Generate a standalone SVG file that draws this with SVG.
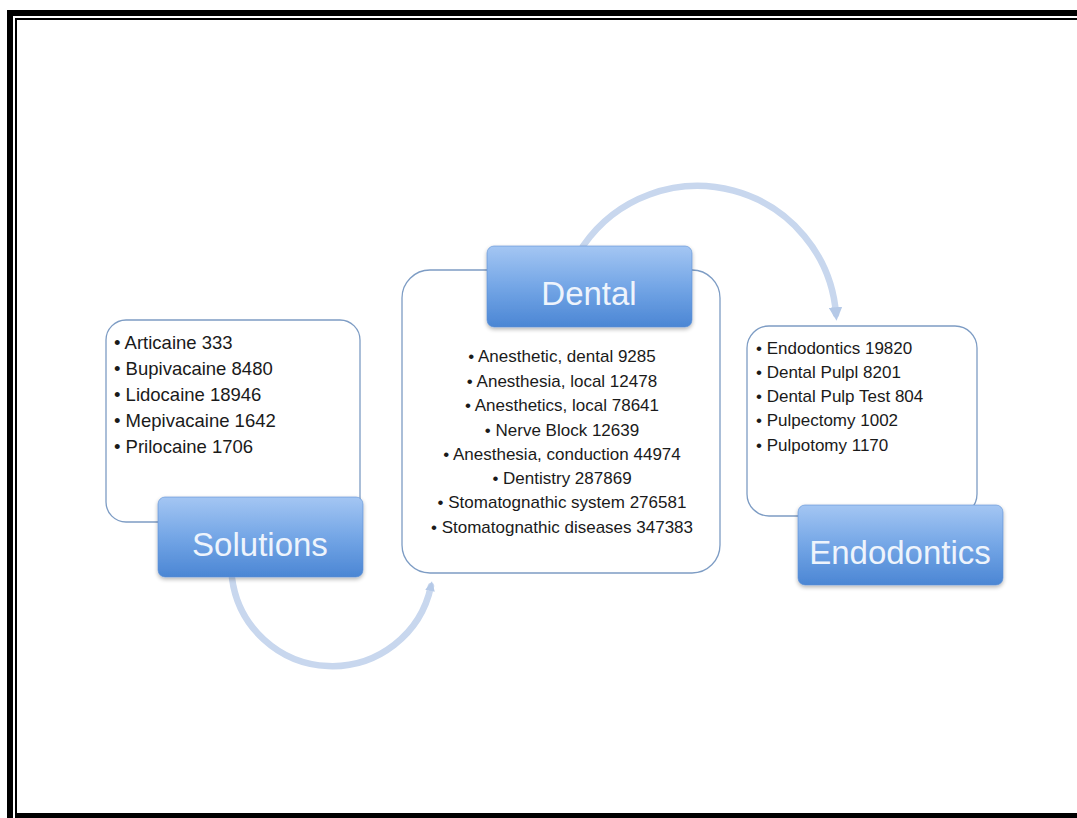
<svg xmlns="http://www.w3.org/2000/svg" width="1077" height="818" viewBox="0 0 1077 818">
<style>
.box{fill:#fff;stroke:#7d9cc4;stroke-width:1.3}
.lbl{stroke:#5d8fd4;stroke-width:0.6;filter:url(#sh)}
.ttl{font-family:"Liberation Sans",Arial,sans-serif;font-size:33px;fill:#eef4fc;text-anchor:middle}
.it{font-family:"Liberation Sans",Arial,sans-serif;font-size:17px;fill:#1a1a1a}
.it18{font-family:"Liberation Sans",Arial,sans-serif;font-size:18.5px;fill:#1a1a1a}
.mid{text-anchor:middle}
.arc{fill:none;stroke:#c8d7ee;stroke-width:6.5;stroke-linecap:round}
</style>
<defs>
<linearGradient id="g" x1="0" y1="0" x2="0" y2="1">
<stop offset="0" stop-color="#a4c6f3"/>
<stop offset="0.5" stop-color="#74a6e6"/>
<stop offset="1" stop-color="#4b86d4"/>
</linearGradient>
<filter id="sh" x="-10%" y="-10%" width="120%" height="130%">
<feGaussianBlur in="SourceAlpha" stdDeviation="2"/>
<feOffset dy="2" result="b"/>
<feComponentTransfer><feFuncA type="linear" slope="0.3"/></feComponentTransfer>
<feMerge><feMergeNode/><feMergeNode in="SourceGraphic"/></feMerge>
</filter>
<marker id="ah" viewBox="0 0 10 10" refX="5" refY="5" markerWidth="2.1" markerHeight="2.1" orient="auto" markerUnits="strokeWidth">
<path d="M0,0 L10,5 L0,10 z" fill="#b5c9e7"/>
</marker>
<marker id="ah2" viewBox="0 0 10 10" refX="5" refY="5" markerWidth="1.5" markerHeight="1.5" orient="auto" markerUnits="strokeWidth">
<path d="M0,0 L10,5 L0,10 z" fill="#b5c9e7"/>
</marker>
</defs>
<rect width="1077" height="818" fill="#fff"/>
<g id="border" fill="#000">
<rect x="7" y="10" width="1070" height="6"/>
<rect x="7" y="10" width="6" height="808"/>
<rect x="15" y="18" width="1062" height="2"/>
<rect x="15" y="18" width="2" height="795"/>
<rect x="15" y="813" width="1062" height="5"/>
</g>
<g id="connectors">
<path class="arc" d="M232,578 A101,101 0 0 0 431,586" marker-end="url(#ah2)"/>
<path class="arc" d="M583,246 A139,139 0 0 1 836,314" marker-end="url(#ah)"/>
</g>
<g id="solutions">
<rect class="box" x="106" y="320" width="254" height="202" rx="20"/>
<text class="it18" x="114" y="349">• Articaine 333</text>
<text class="it18" x="114" y="375">• Bupivacaine 8480</text>
<text class="it18" x="114" y="401">• Lidocaine 18946</text>
<text class="it18" x="114" y="427">• Mepivacaine 1642</text>
<text class="it18" x="114" y="453">• Prilocaine 1706</text>
<rect class="lbl" x="158" y="497" width="205" height="80" rx="7" fill="url(#g)"/>
<text class="ttl" x="260" y="556">Solutions</text>
</g>
<g id="dental">
<rect class="box" x="402" y="270" width="318" height="303" rx="28"/>
<rect class="lbl" x="487" y="246" width="205" height="81" rx="7" fill="url(#g)"/>
<text class="ttl" x="589" y="305">Dental</text>
<text class="it mid" x="562" y="362">• Anesthetic, dental 9285</text>
<text class="it mid" x="562" y="387">• Anesthesia, local 12478</text>
<text class="it mid" x="562" y="411">• Anesthetics, local 78641</text>
<text class="it mid" x="562" y="436">• Nerve Block 12639</text>
<text class="it mid" x="562" y="460">• Anesthesia, conduction 44974</text>
<text class="it mid" x="562" y="484">• Dentistry 287869</text>
<text class="it mid" x="562" y="508">• Stomatognathic system 276581</text>
<text class="it mid" x="562" y="533">• Stomatognathic diseases 347383</text>
</g>
<g id="endodontics">
<rect class="box" x="747" y="326" width="230" height="190" rx="22"/>
<text class="it" x="756" y="354">• Endodontics 19820</text>
<text class="it" x="756" y="378">• Dental Pulpl 8201</text>
<text class="it" x="756" y="402">• Dental Pulp Test 804</text>
<text class="it" x="756" y="426">• Pulpectomy 1002</text>
<text class="it" x="756" y="451">• Pulpotomy 1170</text>
<rect class="lbl" x="798" y="505" width="205" height="80" rx="7" fill="url(#g)"/>
<text class="ttl" x="900" y="564">Endodontics</text>
</g>
</svg>
